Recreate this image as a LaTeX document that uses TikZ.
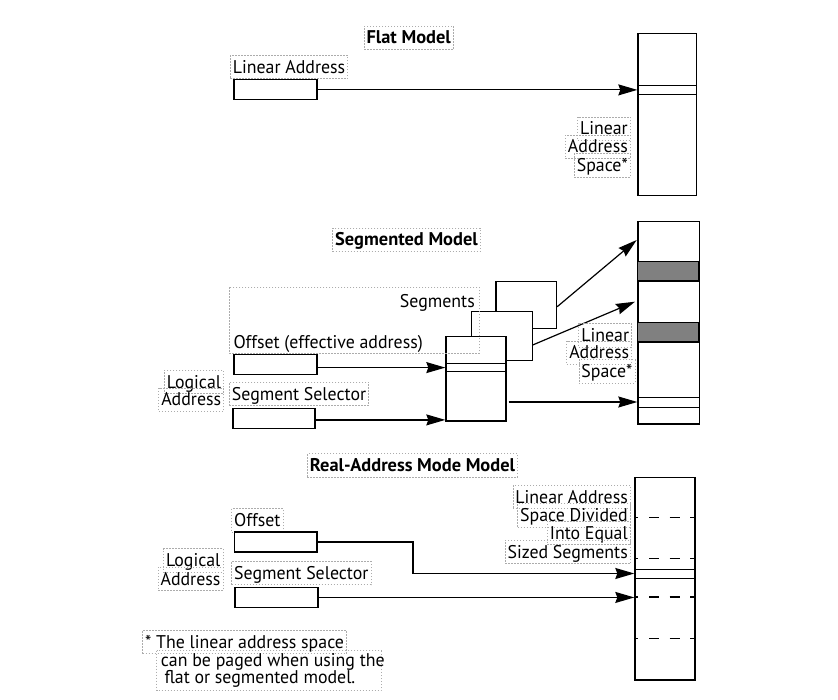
\documentclass[tikz,border=0pt]{standalone}
\usepackage{fontspec}
\setmainfont[FakeStretch=0.97, BoldFeatures={FakeStretch=1.0}]{PT Sans}
\usetikzlibrary{arrows.meta}
\newcommand{\lblfont}{\fontsize{18.4}{19}\selectfont}
\tikzset{
  lbl/.style={draw=gray!65, dash pattern=on 1.5pt off 1.5pt, line width=0.8pt,
    inner xsep=2.5pt, inner ysep=1pt, text height=17pt, text depth=4.5pt, font=\lblfont},
  ttl/.style={lbl, font=\lblfont\bfseries},
  bare/.style={inner sep=0pt, font=\lblfont},
  dframe/.style={draw=gray!65, dash pattern=on 1.5pt off 1.5pt, line width=0.8pt},
  box/.style={draw, line width=1.2pt, fill=white, inner sep=0pt, anchor=north west},
  ln/.style={line width=1.2pt},
  conn/.style={line width=1.2pt, -{Stealth[length=19pt,width=11pt,inset=2pt]}},
  dline/.style={line width=1.2pt, dash pattern=on 10pt off 10.7pt, dash phase=6pt}
}
\begin{document}
\begin{tikzpicture}[x=1pt,y=-1pt]
\useasboundingbox (0,0) rectangle (838,700);

% ---------------- Flat model ----------------
\node[ttl, anchor=base] (tflat) at (408.7,44) {Flat Model};
\node[lbl, anchor=base west] (tfla) at (230,73.3) {Linear Address};
\node[box, minimum width=83pt, minimum height=20pt] (fla) at (233.3,79.3) {};
\node[box, minimum width=58.7pt, minimum height=161.7pt] (fls) at (637.3,33.3) {};
\draw[ln] (fls.west |- 0,85.3) -- (fls.east |- 0,85.3);
\draw[ln] (fls.west |- 0,94.3) -- (fls.east |- 0,94.3);
\draw[conn] (fla.east) -- (fls.west |- fla.east);
\node[lbl, anchor=base east] (tfl1) at (630.7,135) {Linear};
\node[lbl, anchor=base east] (tfl2) at (630.7,153) {Address};
\node[lbl, anchor=base east] (tfl3) at (630.7,171.7) {Space*};

% ---------------- Segmented model ----------------
\node[ttl, anchor=base] (tseg) at (406.5,246) {Segmented Model};
\node[box, minimum width=60.7pt, minimum height=47.3pt] (seg3) at (495.3,281) {};
\node[box, minimum width=60.8pt, minimum height=49pt] (seg2) at (470.7,311.3) {};
\node[box, minimum width=60pt, minimum height=84pt] (seg1) at (445.3,336.3) {};
\draw[ln] (seg1.west |- 0,363.3) -- (seg1.east |- 0,363.3);
\draw[ln] (seg1.west |- 0,371.7) -- (seg1.east |- 0,371.7);
\draw[dframe] (229.3,287.3) rectangle (479.3,353.3);
\node[bare, anchor=base east] (tsegs) at (475,307.3) {Segments};
\node[bare, anchor=base west] (tsoff) at (233.3,348.3) {Offset (effective address)};
\node[box, minimum width=83pt, minimum height=20pt] (soff) at (233.3,354.3) {};
\node[box, minimum width=82pt, minimum height=20pt] (ssel) at (232.3,407.7) {};
\node[lbl, anchor=base west] (tssel) at (229,400) {Segment Selector};
\node[lbl, anchor=base east] (tslog1) at (224,388.3) {Logical};
\node[lbl, anchor=base east] (tslog2) at (224,406) {Address};
\coordinate (a1) at ([yshift=-2.7pt]soff.east);
\coordinate (a2) at ([yshift=-1.6pt]ssel.east);
\draw[conn] (a1) -- (seg1.west |- a1);
\draw[conn] (a2) -- (seg1.west |- a2);
\node[box, minimum width=61.4pt, minimum height=202.3pt] (sls) at (637.3,221) {};
\draw[ln, fill=gray] (637.3,261.7) rectangle (698.7,281);
\draw[ln, fill=gray] (637.3,322.3) rectangle (698.7,342);
\draw[ln] (sls.west |- 0,397.7) -- (sls.east |- 0,397.7);
\draw[ln] (sls.west |- 0,407.3) -- (sls.east |- 0,407.3);
\draw[conn] (seg3.east |- 0,306.7) -- (636.7,240);
\draw[conn] (seg2.east |- 0,345) -- (635,301.7);
\coordinate (a3) at ([xshift=2pt]seg1.east |- 0,402);
\draw[conn] (a3) -- (sls.west |- a3);
\node[lbl, anchor=base east] (tsl1) at (632,341.7) {Linear};
\node[lbl, anchor=base east] (tsl2) at (632,359) {Address};
\node[lbl, anchor=base east] (tsl3) at (635.3,377.7) {Space*};

% ---------------- Real-address mode model ----------------
\node[ttl, anchor=base] (treal) at (412.5,471.7) {Real-Address Mode Model};
\node[lbl, anchor=base west] (troff) at (231.3,526.7) {Offset};
\node[box, minimum width=82.3pt, minimum height=20pt] (roff) at (234,531.3) {};
\node[lbl, anchor=base west] (trsel) at (231.3,579.3) {Segment Selector};
\node[box, minimum width=83pt, minimum height=20.3pt] (rsel) at (234.3,586.7) {};
\node[lbl, anchor=base east] (trlog1) at (223.3,566.7) {Logical};
\node[lbl, anchor=base east] (trlog2) at (223.3,585) {Address};
\node[box, minimum width=60pt, minimum height=202.6pt] (rls) at (634.3,476.7) {};
\draw[dline] (rls.west |- 0,517.7) -- (rls.east |- 0,517.7);
\draw[dline] (rls.west |- 0,558.3) -- (rls.east |- 0,558.3);
\draw[dline] (rls.west |- 0,597) -- (rls.east |- 0,597);
\draw[dline] (rls.west |- 0,638.7) -- (rls.east |- 0,638.7);
\draw[ln] (rls.west |- 0,569.3) -- (rls.east |- 0,569.3);
\draw[ln] (rls.west |- 0,578.3) -- (rls.east |- 0,578.3);
\coordinate (bend) at (413,573.5);
\draw[conn] (roff.east) -| (bend) -- (rls.west |- bend);
\draw[conn] (rsel.east) -- (rls.west |- rsel.east);
\node[lbl, anchor=base east] (trl1) at (630.7,503.3) {Linear Address};
\node[lbl, anchor=base east] (trl2) at (630.7,521.7) {Space Divided};
\node[lbl, anchor=base east] (trl3) at (630.7,539.3) {Into Equal};
\node[lbl, anchor=base east] (trl4) at (630.7,558.3) {Sized Segments};

% ---------------- Footnote ----------------
\node[lbl, anchor=base west] (tfn1) at (142.3,648.3) {* The linear address space};
\draw[dframe] (156.7,650.7) rectangle (381,690.7);
\node[bare, anchor=base west] (tfn2) at (160.7,666.7) {can be paged when using the};
\node[bare, anchor=base west] (tfn3) at (164.3,683.3) {flat or segmented model.};
\end{tikzpicture}
\end{document}
